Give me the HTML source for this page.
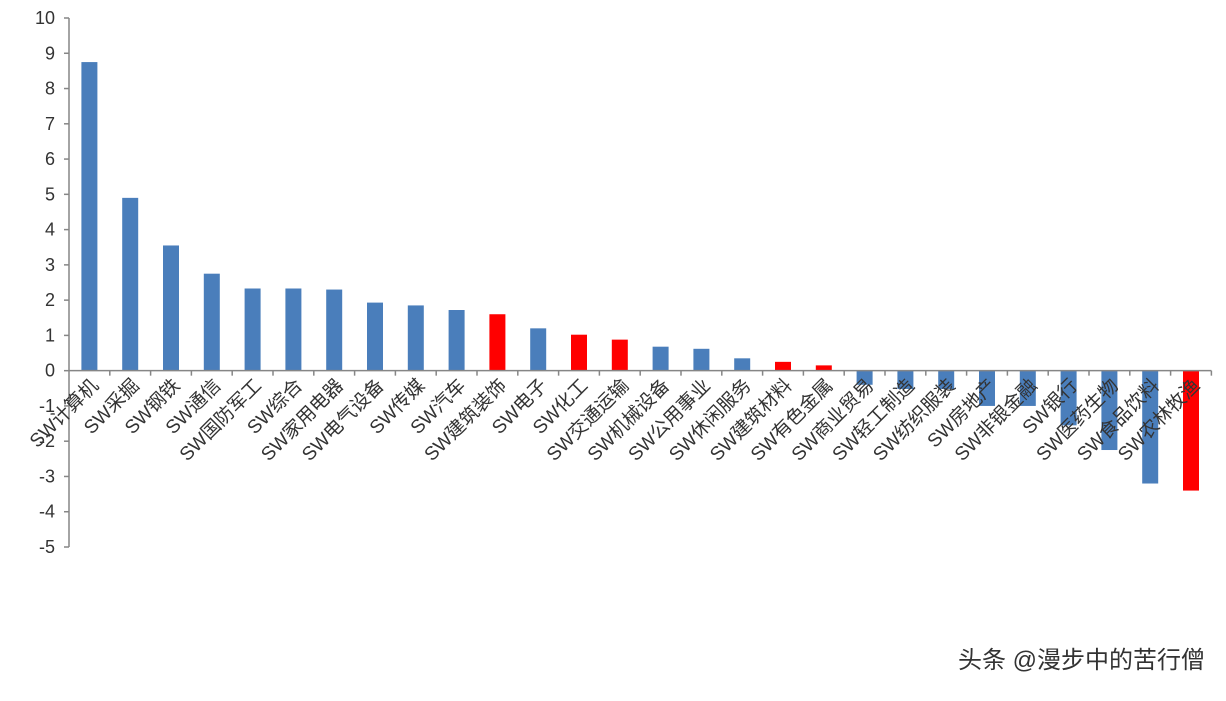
<!DOCTYPE html>
<html><head><meta charset="utf-8"><style>
body{margin:0;background:#fff;}
svg text{font-family:"Liberation Sans","Noto Sans CJK SC",sans-serif;}
</style></head><body>
<svg id="chart" width="1226" height="696" xmlns="http://www.w3.org/2000/svg"></svg>
<script>
const categories=["SW计算机","SW采掘","SW钢铁","SW通信","SW国防军工","SW综合","SW家用电器","SW电气设备","SW传媒","SW汽车","SW建筑装饰","SW电子","SW化工","SW交通运输","SW机械设备","SW公用事业","SW休闲服务","SW建筑材料","SW有色金属","SW商业贸易","SW轻工制造","SW纺织服装","SW房地产","SW非银金融","SW银行","SW医药生物","SW食品饮料","SW农林牧渔"];
const values=[8.75,4.9,3.55,2.75,2.33,2.33,2.3,1.93,1.85,1.72,1.6,1.2,1.02,0.88,0.68,0.62,0.35,0.25,0.15,-0.4,-0.52,-0.52,-1.0,-1.0,-1.55,-2.25,-3.2,-3.4];
const highlighted=[false,false,false,false,false,false,false,false,false,false,true,false,true,true,false,false,false,true,true,false,false,false,false,false,false,false,false,true];
const yTicks=[10,9,8,7,6,5,4,3,2,1,0,-1,-2,-3,-4,-5];
const NS="http://www.w3.org/2000/svg";
const svg=document.getElementById('chart');
const x0=69,step=40.8,yMin=-5,yMax=10,plotTop=18,plotBot=547;
function yScale(v){return plotBot-(v-yMin)/(yMax-yMin)*(plotBot-plotTop);}
function xScale(i){return x0+step*(i+0.5);}
function mk(t,a){const e=document.createElementNS(NS,t);for(const k in a)e.setAttribute(k,a[k]);svg.appendChild(e);return e;}
let ax=mk('line',{x1:x0,y1:plotTop,x2:x0,y2:plotBot,stroke:'#868686','stroke-width':1.5});


yTicks.forEach(v=>{
 const y=yScale(v);
 let t=mk('line',{x1:x0-5,y1:y,x2:x0,y2:y,stroke:'#868686','stroke-width':1.5});
 
 
 let l=mk('text',{x:x0-14,y:y+6,'text-anchor':'end','font-size':18,fill:'#333'});
 l.textContent=v;
 
 
});
const y0=yScale(0);
values.forEach((v,i)=>{
 const cx=xScale(i),y=yScale(v);
 let r=mk('rect',{x:cx-8,y:Math.min(y,y0),width:16,height:Math.abs(y-y0),fill:highlighted[i]?'#ff0000':'#4a7ebb'});
 
 
});
let xa=mk('line',{x1:x0,y1:y0,x2:x0+step*categories.length,y2:y0,stroke:'#868686','stroke-width':1.5});


categories.forEach((c,i)=>{
 const tx=x0+step*(i+1);
 let t=mk('line',{x1:tx,y1:y0,x2:tx,y2:y0+5,stroke:'#868686','stroke-width':1.5});
 
 
 const cx=xScale(i)+10,cy=y0+16;
 let l=mk('text',{x:cx,y:cy,'text-anchor':'end','font-size':19,fill:'#333',transform:`rotate(-45 ${cx} ${cy})`});
 l.textContent=c;
 
 
});
let w=mk('text',{x:1205,y:668,'text-anchor':'end','font-size':24,fill:'#333'});
w.textContent='头条 @漫步中的苦行僧';


</script>
</body></html>
